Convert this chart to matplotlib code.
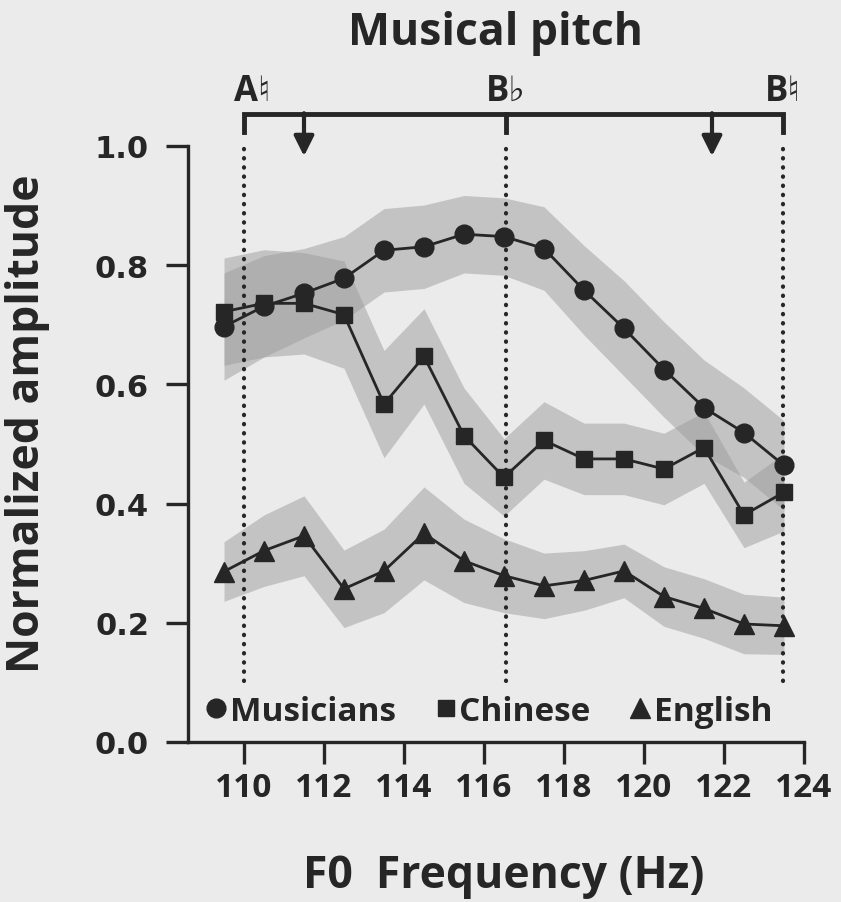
import matplotlib
matplotlib.use("Agg")
import matplotlib.pyplot as plt
from matplotlib.lines import Line2D

# F0 of each stimulus step (Hz)
freqs = [109.5, 110.5, 111.5, 112.5, 113.5, 114.5, 115.5, 116.5,
         117.5, 118.5, 119.5, 120.5, 121.5, 122.5, 123.5]

musicians = [0.697, 0.731, 0.753, 0.778, 0.825, 0.831, 0.852, 0.848,
             0.828, 0.758, 0.694, 0.625, 0.561, 0.519, 0.464]
chinese = [0.722, 0.736, 0.736, 0.717, 0.567, 0.647, 0.514, 0.444,
           0.506, 0.475, 0.475, 0.458, 0.494, 0.381, 0.419]
english = [0.286, 0.321, 0.346, 0.257, 0.287, 0.350, 0.304, 0.279,
           0.262, 0.271, 0.287, 0.244, 0.224, 0.198, 0.195]

# shaded band half-widths (s.e.m.)
musicians_sem = [0.09, 0.085, 0.075, 0.07, 0.07, 0.07, 0.065, 0.065,
                 0.07, 0.075, 0.08, 0.08, 0.08, 0.075, 0.075]
chinese_sem = [0.09, 0.09, 0.085, 0.09, 0.09, 0.08, 0.08, 0.065,
               0.065, 0.06, 0.06, 0.06, 0.06, 0.055, 0.065]
english_sem = [0.05, 0.06, 0.067, 0.065, 0.07, 0.078, 0.07, 0.062,
               0.055, 0.05, 0.045, 0.05, 0.05, 0.05, 0.048]

# musical notes marked above the plot
note_freqs = [110.0, 116.54, 123.47]
note_labels = ["A\u266e", "B\u266d", "B\u266e"]
arrow_freqs = [111.5, 121.7]

xticks = [110, 112, 114, 116, 118, 120, 122, 124]
yticks = [0.0, 0.2, 0.4, 0.6, 0.8, 1.0]

ink = "#262626"
bg = "#ebebeb"
fonts = ["Open Sans", "DejaVu Sans"]
plt.rcParams["font.family"] = fonts

W, H = 841, 903
fig = plt.figure(figsize=(W / 100, H / 100), dpi=100, facecolor=bg)
ax = fig.add_axes([188 / W, (H - 743) / H, 616 / W, 596 / H])
ax.set_facecolor(bg)

series = [(musicians, musicians_sem, "o", 13.5, "Musicians"),
          (chinese, chinese_sem, "s", 11.5, "Chinese"),
          (english, english_sem, "^", 14.5, "English")]

for vals, sem, m, ms, name in series:
    lo = [v - e for v, e in zip(vals, sem)]
    hi = [v + e for v, e in zip(vals, sem)]
    ax.fill_between(freqs, lo, hi, color="#9c9c9c", alpha=0.5, lw=0, zorder=1)

for nf in note_freqs:
    ax.plot([nf, nf], [0.102, 0.998], color=ink, lw=3,
            linestyle=(0, (0.1, 2.1)), dash_capstyle="round", zorder=2)

for vals, sem, m, ms, name in series:
    ax.plot(freqs, vals, color=ink, lw=2, marker=m, ms=ms, zorder=3)

# bracket with note labels
ax.plot([note_freqs[0], note_freqs[0], note_freqs[2], note_freqs[2]],
        [1.024, 1.054, 1.054, 1.024], color=ink, lw=3.5, clip_on=False,
        solid_joinstyle="miter")
ax.plot([note_freqs[1], note_freqs[1]], [1.054, 1.024], color=ink, lw=3.5,
        clip_on=False)
ax.text(note_freqs[0] - 0.25, 1.078, note_labels[0], ha="left", va="baseline",
        fontsize=25, fontweight="bold", color=ink)
for nf, lab in zip(note_freqs[1:], note_labels[1:]):
    ax.text(nf, 1.078, lab, ha="center", va="baseline",
            fontsize=25, fontweight="bold", color=ink)
for af in arrow_freqs:
    ax.annotate("", xy=(af, 0.983), xytext=(af, 1.055),
                arrowprops=dict(arrowstyle="-|>", lw=3, color=ink,
                                mutation_scale=30, shrinkA=0, shrinkB=0),
                annotation_clip=False)

ax.set_xlim(108.6, 124)
ax.set_ylim(0, 1.0)
ax.set_xticks(xticks)
ax.set_yticks(yticks)
ax.set_yticklabels([f"{v:.1f}" for v in yticks])
for s in ["top", "right"]:
    ax.spines[s].set_visible(False)
for s in ["left", "bottom"]:
    ax.spines[s].set_linewidth(2.4)
    ax.spines[s].set_color(ink)
ax.tick_params(axis="both", length=16, width=2.4, color=ink)
ax.tick_params(axis="x", pad=5, labelsize=24)
ax.tick_params(axis="y", pad=12)
for lab in ax.get_xticklabels():
    lab.set_fontweight("bold")
    lab.set_color(ink)
for lab in ax.get_yticklabels():
    lab.set_family(["DejaVu Sans"])
    lab.set_fontweight("bold")
    lab.set_fontsize(22)
    lab.set_color(ink)

handles = [Line2D([], [], ls="none", marker=m, ms=ms, color=ink, label=name)
           for vals, sem, m, ms, name in series]
ax.legend(handles=handles, loc="center left", ncol=3, frameon=False,
          bbox_to_anchor=(0.03, 0.052), borderaxespad=0, borderpad=0,
          handlelength=0.6, handletextpad=0.1, columnspacing=1.2,
          prop={"family": fonts, "weight": "bold", "size": 24})
for t in ax.get_legend().get_texts():
    t.set_color(ink)

fig.text(495 / W, 1 - 45 / H, "Musical pitch", ha="center", va="baseline",
         fontsize=32, fontweight="bold", color=ink)
fig.text(504 / W, 1 - 888 / H, "F0  Frequency (Hz)", ha="center", va="baseline",
         fontsize=32, fontweight="bold", color=ink)
fig.text(28 / W, 1 - 424 / H, "Normalized amplitude", ha="center", va="center",
         rotation=90, fontsize=32, fontweight="bold", color=ink)

fig.savefig("out.png", dpi=100, facecolor=bg)
